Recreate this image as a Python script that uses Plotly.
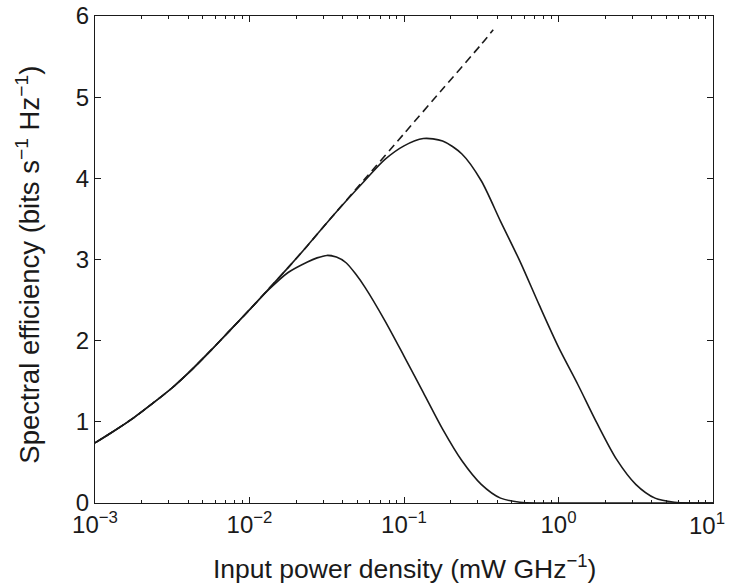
import plotly.graph_objects as go

# Input power density (mW GHz^-1), read at eighth-decade steps
p_lower = [1e-3, 1.334e-3, 1.778e-3, 2.371e-3, 3.162e-3, 4.217e-3, 5.623e-3, 7.499e-3,
           0.01, 0.01334, 0.01778, 0.02371, 0.02738, 0.03162, 0.03652, 0.04217, 0.04870,
           0.05623, 0.07499, 0.1, 0.1334, 0.1778, 0.2371, 0.3162, 0.4217, 0.5623,
           0.7499, 1.0, 10.0]
se_lower = [0.74, 0.89, 1.05, 1.23, 1.42, 1.64, 1.88, 2.13,
            2.38, 2.63, 2.84, 2.97, 3.02, 3.05, 3.03, 2.96, 2.82,
            2.65, 2.25, 1.81, 1.36, 0.91, 0.52, 0.23, 0.06, 0.01,
            0.0, 0.0, 0.0]

p_upper = [1e-3, 1.334e-3, 1.778e-3, 2.371e-3, 3.162e-3, 4.217e-3, 5.623e-3, 7.499e-3,
           0.01, 0.01334, 0.01778, 0.02371, 0.03162, 0.04217, 0.05623, 0.07499,
           0.1, 0.1334, 0.1778, 0.2371, 0.3162, 0.4217, 0.5623, 0.7499,
           1.0, 1.334, 1.778, 2.371, 3.162, 4.217, 5.623, 7.499, 10.0]
se_upper = [0.74, 0.89, 1.05, 1.23, 1.42, 1.64, 1.88, 2.13,
            2.38, 2.64, 2.90, 3.17, 3.45, 3.72, 3.98, 4.23,
            4.40, 4.49, 4.46, 4.30, 3.97, 3.47, 2.98, 2.44,
            1.92, 1.46, 0.98, 0.54, 0.23, 0.06, 0.01, 0.0, 0.0]

p_linear = [1e-3, 1.334e-3, 1.778e-3, 2.371e-3, 3.162e-3, 4.217e-3, 5.623e-3, 7.499e-3,
            0.01, 0.01334, 0.01778, 0.02371, 0.03162, 0.05623, 0.1, 0.1778, 0.3162, 0.378]
se_linear = [0.74, 0.89, 1.05, 1.23, 1.42, 1.64, 1.88, 2.13,
             2.38, 2.64, 2.90, 3.17, 3.45, 4.00, 4.55, 5.10, 5.65, 5.83]

x_tickvals = [1e-3, 1e-2, 1e-1, 1e0, 1e1]
x_ticktext = ["10<sup>−3</sup>", "10<sup>−2</sup>", "10<sup>−1</sup>",
              "10<sup>0</sup>", ""]
x_last_label = "10<sup>1</sup>"
x_minor_vals = [m * d for d in [1e-3, 1e-2, 1e-1, 1e0] for m in range(2, 10)]
y_tickvals = [0, 1, 2, 3, 4, 5, 6]

x_title = "Input power density (mW GHz<sup>−1</sup>)"
y_title = "Spectral efficiency (bits s<sup>−1</sup> Hz<sup>−1</sup>)"

FONT = "Liberation Sans, Arial, sans-serif"
INK = "#1a1a1a"

fig = go.Figure()
fig.add_trace(go.Scatter(x=p_linear, y=se_linear, mode="lines",
                         line=dict(color=INK, width=1.6, dash="8px,5px", shape="spline", smoothing=0.6),
                         showlegend=False, hoverinfo="skip"))
fig.add_trace(go.Scatter(x=p_lower, y=se_lower, mode="lines",
                         line=dict(color=INK, width=1.6, shape="spline", smoothing=0.8),
                         showlegend=False))
fig.add_trace(go.Scatter(x=p_upper, y=se_upper, mode="lines",
                         line=dict(color=INK, width=1.6, shape="spline", smoothing=0.8),
                         showlegend=False))

fig.update_layout(
    width=729, height=584,
    margin=dict(l=95, r=16, t=16, b=81),
    paper_bgcolor="white", plot_bgcolor="white",
    font=dict(family=FONT, color=INK, size=24),
    xaxis=dict(
        type="log", range=[-3, 1], automargin=False,
        tickmode="array", tickvals=x_tickvals, ticktext=x_ticktext,
        ticks="inside", ticklen=6, tickwidth=1, tickcolor=INK,
        minor=dict(tickmode="array", tickvals=x_minor_vals, ticks="inside", ticklen=3,
                   tickwidth=1, tickcolor=INK, showgrid=False),
        showline=True, linecolor=INK, linewidth=1.3, mirror="allticks",
        showgrid=False, zeroline=False,
        tickfont=dict(size=24),
    ),
    yaxis=dict(
        range=[0, 6], automargin=False,
        tickmode="array", tickvals=y_tickvals,
        ticks="inside", ticklen=6, tickwidth=1, tickcolor=INK,
        showline=True, linecolor=INK, linewidth=1.3, mirror="allticks",
        showgrid=False, zeroline=False,
        tickfont=dict(size=24),
    ),
    annotations=[
        dict(text=x_last_label, xref="paper", yref="paper", x=1.0, y=0,
             xanchor="right", yanchor="top", xshift=14, yshift=-4,
             showarrow=False, font=dict(size=24)),
        dict(text=x_title, xref="paper", yref="paper", x=0.5, y=-0.131,
             xanchor="center", yanchor="middle", showarrow=False, font=dict(size=26.5)),
        dict(text=y_title, xref="paper", yref="paper", x=-0.108, y=0.49, textangle=-90,
             xanchor="center", yanchor="middle", showarrow=False, font=dict(size=27.5)),
    ],
)

fig.write_html("out.html")
